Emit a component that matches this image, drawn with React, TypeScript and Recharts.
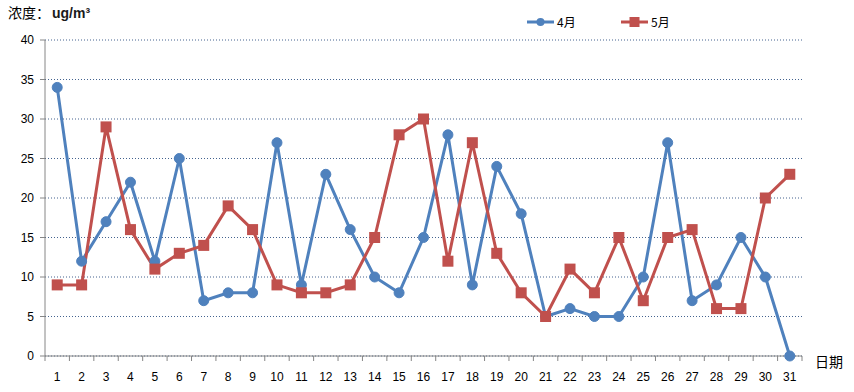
import { LineChart, Line, XAxis, YAxis, CartesianGrid } from 'recharts';

const days = Array.from({ length: 31 }, (_, i) => String(i + 1));
const april = [34, 12, 17, 22, 12, 25, 7, 8, 8, 27, 9, 23, 16, 10, 8, 15, 28, 9, 24, 18, 5, 6, 5, 5, 10, 27, 7, 9, 15, 10, 0];
const may = [9, 9, 29, 16, 11, 13, 14, 19, 16, 9, 8, 8, 9, 15, 28, 30, 12, 27, 13, 8, 5, 11, 8, 15, 7, 15, 16, 6, 6, 20, 23];
const yTicks = [0, 5, 10, 15, 20, 25, 30, 35, 40];

const data = days.map((d, i) => ({ day: d, april: april[i], may: may[i] }));

const W = 854;
const H = 392;
const LEFT = 45;
const RIGHT = 52;
const TOP = 40;
const BOTTOM_Y = 356;
const BAND = (W - LEFT - RIGHT) / days.length;
const BLUE = '#4F81BD';
const RED = '#C0504D';
const FONT = '"Liberation Sans", Arial, sans-serif';
const CJK = '"Noto Sans CJK SC", sans-serif';

const XTick = (props: any) => {
  const { x, index } = props;
  return (
    <g>
      <line x1={x - BAND / 2} x2={x - BAND / 2} y1={BOTTOM_Y} y2={BOTTOM_Y + 5} stroke="#868686" />
      {index === days.length - 1 && (
        <line x1={x + BAND / 2} x2={x + BAND / 2} y1={BOTTOM_Y} y2={BOTTOM_Y + 5} stroke="#868686" />
      )}
      <text x={x} y={BOTTOM_Y + 25} textAnchor="middle" fontSize={12} fill="#000" fontFamily={FONT}>
        {props.payload.value}
      </text>
    </g>
  );
};

const SquareDot = (props: any) => {
  const { cx, cy, index } = props;
  if (cx == null || cy == null) return null;
  return <rect key={index} x={cx - 5.5} y={cy - 5.5} width={11} height={11} fill={RED} />;
};

const LegendBox = () => (
  <div style={{ position: 'absolute', left: 527, top: 15, display: 'flex', fontFamily: CJK, fontSize: 12, color: '#000' }}>
    <svg width={28} height={14}>
      <line x1={0} x2={27} y1={7} y2={7} stroke={BLUE} strokeWidth={3} />
      <circle cx={13.5} cy={7} r={4} fill={BLUE} />
    </svg>
    <span style={{ marginLeft: 2, lineHeight: '14px', width: 64 }}>4月</span>
    <svg width={28} height={14}>
      <line x1={0} x2={27} y1={7} y2={7} stroke={RED} strokeWidth={3} />
      <rect x={8.5} y={2} width={10} height={10} fill={RED} />
    </svg>
    <span style={{ marginLeft: 2, lineHeight: '14px' }}>5月</span>
  </div>
);

export default function App() {
  return (
    <div style={{ position: 'absolute', left: 0, top: 0, width: W, height: H, background: '#fff' }}>
      <LineChart width={W} height={H} data={data} margin={{ top: TOP, right: RIGHT, bottom: 6, left: 0 }}>
        <CartesianGrid vertical={false} stroke="#44638f" strokeDasharray="1 2" />
        <XAxis
          dataKey="day"
          scale="band"
          interval={0}
          height={30}
          axisLine={{ stroke: '#868686' }}
          tickLine={false}
          tick={<XTick />}
        />
        <YAxis
          domain={[0, 40]}
          ticks={yTicks}
          width={LEFT}
          axisLine={{ stroke: '#868686' }}
          tickLine={{ stroke: '#868686' }}
          tickSize={5}
          tickMargin={6}
          tick={{ fontSize: 12, fill: '#000', fontFamily: FONT }}
        />
        <Line
          dataKey="april"
          stroke={BLUE}
          strokeWidth={3}
          dot={{ r: 5, fill: BLUE, stroke: BLUE, strokeWidth: 1 }}
          isAnimationActive={false}
        />
        <Line
          dataKey="may"
          stroke={RED}
          strokeWidth={3}
          dot={<SquareDot />}
          isAnimationActive={false}
        />
      </LineChart>
      <div style={{ position: 'absolute', left: 8, top: 2, fontSize: 14, color: '#000', fontFamily: CJK }}>
        浓度：<span style={{ fontWeight: 'bold', fontFamily: FONT, fontSize: 14, color: '#1a1a1a', marginLeft: 2 }}>ug/m³</span>
      </div>
      <div style={{ position: 'absolute', left: 815, top: 351, fontSize: 14, color: '#000', fontFamily: CJK }}>
        日期
      </div>
      <LegendBox />
    </div>
  );
}
